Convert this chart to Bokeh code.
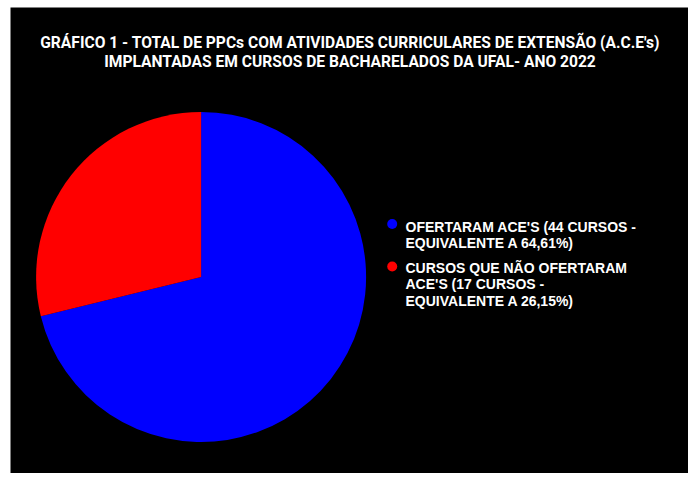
from bokeh.plotting import figure
from bokeh.models import ColumnDataSource
from bokeh.core.properties import value
from bokeh.embed import file_html
from bokeh.resources import INLINE
import math

title_lines = ["GRÁFICO 1 - TOTAL DE PPCs COM ATIVIDADES CURRICULARES DE EXTENSÃO (A.C.E's)",
               "IMPLANTADAS EM CURSOS DE BACHARELADOS DA UFAL- ANO 2022"]
categories = ["OFERTARAM ACE'S (44 CURSOS -\nEQUIVALENTE A 64,61%)",
              "CURSOS QUE NÃO OFERTARAM\nACE'S (17 CURSOS  -\nEQUIVALENTE A 26,15%)"]
values = [64.61, 26.15]
colors = ["#0000FF", "#FF0000"]

W, H = 688, 473
ML, MT = 10, 7
FW, FH = W - ML, H - MT
p = figure(width=W, height=H, x_range=(0, FW), y_range=(0, FH),
           output_backend="svg", toolbar_location=None,
           background_fill_color="black", border_fill_color="white",
           min_border_left=ML, min_border_top=MT, min_border_right=0, min_border_bottom=0,
           outline_line_color=None)
p.axis.visible = False
p.grid.visible = False

# pie: blue slice clockwise from 12 o'clock, red slice counter-clockwise from 12 o'clock
total = sum(values)
cx, cy, r = 190.6, FH - 269.5, 165
span0 = values[0] / total * 2 * math.pi
span1 = values[1] / total * 2 * math.pi
starts = [math.pi / 2 + span1, math.pi / 2]
ends = [math.pi / 2 + span1 + span0, math.pi / 2 + span1]
src = ColumnDataSource(dict(start=starts, end=ends, color=colors))
p.wedge(x=cx, y=cy, radius=r, radius_units="screen", start_angle="start", end_angle="end",
        fill_color="color", line_color=None, source=src)

# title
p.text(x=[339.5, 339.5], y=[FH - 35.5, FH - 54.5], text=title_lines, text_color="white",
       text_font=value("Roboto"), text_font_style="bold",
       text_font_size="15.6px", text_align="center", text_baseline="middle")

# legend
dot_y = [FH - 216.5, FH - 259]
text_top = [FH - 211, FH - 252]
p.scatter(x=[381.7, 381.7], y=dot_y, size=10, marker="circle", fill_color=colors, line_color=None)
p.text(x=[395, 395], y=text_top, text=categories, text_color="white",
       text_font=value("Liberation Sans"), text_font_style="bold",
       text_font_size="14px", text_align="left", text_baseline="top",
       text_line_height=1.04)

open("out.html", "w").write(file_html(p, INLINE))
